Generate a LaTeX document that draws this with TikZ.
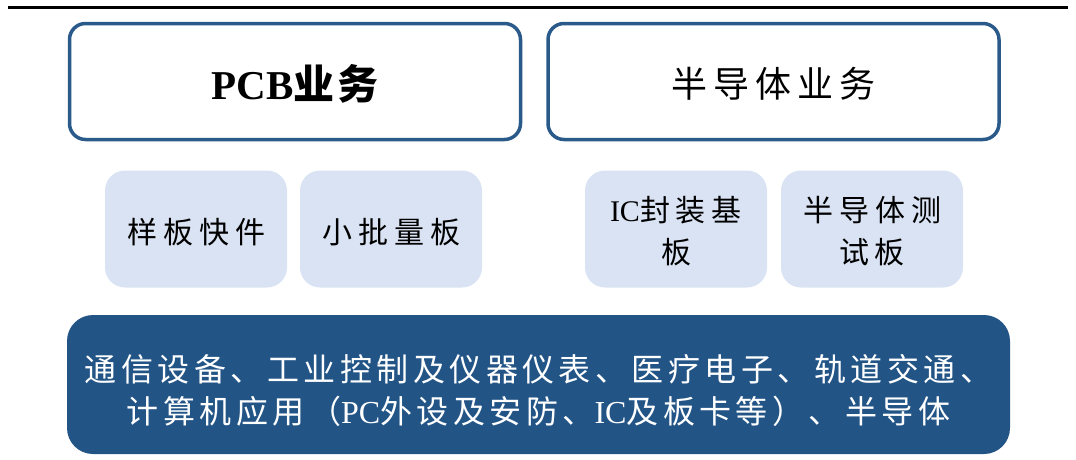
\documentclass[tikz,border=0pt]{standalone}
\usepackage{fontspec}
\setmainfont{Liberation Serif}
\newfontfamily\cjkT[LetterSpace=17]{Noto Sans CJK SC}
\newfontfamily\cjkB[LetterSpace=6]{Noto Sans CJK SC}
\newfontfamily\cjkM[LetterSpace=20]{Noto Sans CJK SC}
\newfontfamily\cjkL[LetterSpace=14]{Noto Sans CJK SC}
\newcommand{\lowerby}[2]{\raisebox{-#1}[\height][\depth]{#2}}
\definecolor{border}{HTML}{2A5A8A}
\definecolor{light}{HTML}{DAE3F3}
\definecolor{dark}{HTML}{225486}
\tikzset{
  bigbox/.style={draw=border, line width=3.5pt, rounded corners=16pt, fill=white,
    minimum width=451pt, minimum height=116pt, inner sep=0pt, align=center},
  smallbox/.style={fill=light, rounded corners=20pt, minimum width=182pt,
    minimum height=117pt, inner sep=0pt, align=center,
    font=\fontsize{30}{42}\selectfont},
  basebox/.style={fill=dark, rounded corners=26pt, minimum width=943pt,
    minimum height=139pt, inner sep=0pt, align=center, text=white,
    font=\fontsize{32}{42}\selectfont},
  rule/.style={line width=3pt, black}
}
\begin{document}
\begin{tikzpicture}[x=1pt,y=-1pt]
\useasboundingbox (0,0) rectangle (1076,459);
\coordinate (rl) at (8,7);
\coordinate (rr) at (1068,7);
\draw[rule] (rl) -- (rr);

\node[bigbox] (pcb) at (295,81.5) {\lowerby{2pt}{\fontsize{41}{42}\selectfont\bfseries PCB{\cjkB 业务}}};
\node[bigbox] (semi) at (773.5,81.5) {\lowerby{2pt}{\fontsize{36}{40}\selectfont\cjkT 半导体业务}};

\node[smallbox] (s1) at (196,229) {\lowerby{3pt}{\cjkM 样板快件}};
\node[smallbox] (s2) at (391,229) {\lowerby{3pt}{\cjkM 小批量板}};
\node[smallbox] (s3) at (676,229) {\lowerby{5pt}{\begin{tabular}{@{}c@{}}IC{\cjkM 封装基}\\{\cjkM 板}\end{tabular}}};
\node[smallbox] (s4) at (872,229) {\lowerby{5pt}{\begin{tabular}{@{}c@{}}{\cjkM 半导体测}\\{\cjkM 试板}\end{tabular}}};

\node[basebox] (app) at (538.5,384.5) {\lowerby{10pt}{\begin{tabular}{@{}c@{}}{\cjkL 通信设备、工业控制及仪器仪表、医疗电子、轨道交通、}\\
{\cjkL 计算机应用（}PC{\cjkL 外设及安防、}IC{\cjkL 及板卡等）、半导体}\end{tabular}}};
\end{tikzpicture}
\end{document}
